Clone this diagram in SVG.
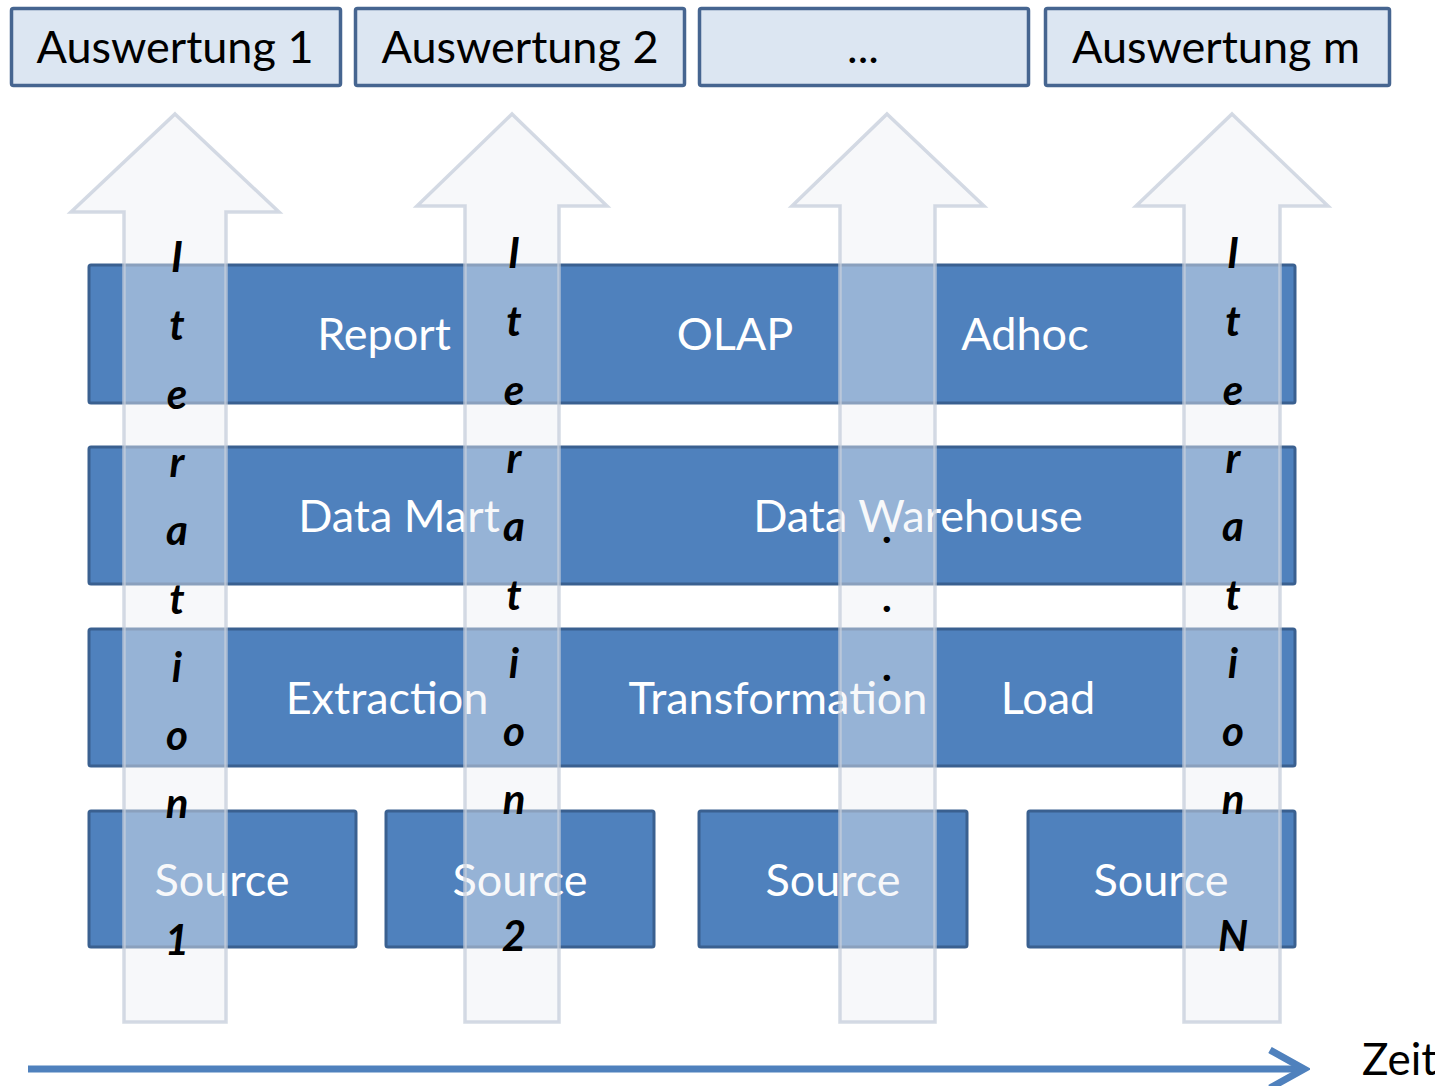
<svg xmlns="http://www.w3.org/2000/svg" width="1435" height="1086" viewBox="0 0 1435 1086">
<style>
.top{fill:#dce6f2;stroke:#466590;stroke-width:3.5}
.bar{fill:#4f81bd;stroke:#3a6090;stroke-width:3}
.tt{font-family:Lato,"Liberation Sans",sans-serif;font-size:45px;fill:#000;text-anchor:middle}
.bt{font-family:Lato,"Liberation Sans",sans-serif;font-size:45px;fill:#fff;text-anchor:middle}
.arr{fill:#eef0f4;fill-opacity:0.45;stroke:#c5cedb;stroke-opacity:0.75;stroke-width:3.5}
.it{font-family:Lato,"Liberation Sans",sans-serif;font-size:42px;font-weight:bold;font-style:italic;fill:#000;text-anchor:middle}
.zeit{font-family:Lato,"Liberation Sans",sans-serif;font-size:44px;fill:#000}
</style>
<defs>
<marker id="chev" viewBox="0 0 44 44" markerWidth="44" markerHeight="44" refX="38" refY="22" orient="auto" markerUnits="userSpaceOnUse">
<path d="M4,3 L38,22 L4,41" fill="none" stroke="#4f81bd" stroke-width="7"/>
</marker>
</defs>
<rect width="1435" height="1086" fill="#fff"/>
<g id="auswertung1"><rect class="top" x="11.5" y="8.5" width="329" height="77" rx="2"/><text class="tt" x="175" y="63">Auswertung 1</text></g>
<g id="auswertung2"><rect class="top" x="355.5" y="8.5" width="329" height="77" rx="2"/><text class="tt" x="520" y="63">Auswertung 2</text></g>
<g id="auswertung-dots"><rect class="top" x="699.5" y="8.5" width="329" height="77" rx="2"/><text class="tt" x="863" y="63">...</text></g>
<g id="auswertungm"><rect class="top" x="1045.5" y="8.5" width="344" height="77" rx="2"/><text class="tt" x="1216" y="63">Auswertung m</text></g>
<g id="row-report">
<rect class="bar" x="89" y="265" width="1206" height="138" rx="2"/>
<text class="bt" x="384" y="350">Report</text>
<text class="bt" x="735" y="350">OLAP</text>
<text class="bt" x="1025" y="350">Adhoc</text>
</g>
<g id="row-dw">
<rect class="bar" x="89" y="447" width="1206" height="137" rx="2"/>
<text class="bt" x="399" y="532">Data Mart</text>
<text class="bt" x="918" y="532">Data Warehouse</text>
</g>
<g id="row-etl">
<rect class="bar" x="89" y="629" width="1206" height="137" rx="2"/>
<text class="bt" x="387" y="714">Extraction</text>
<text class="bt" x="778" y="714">Transformation</text>
<text class="bt" x="1048" y="714">Load</text>
</g>
<g id="source1"><rect class="bar" x="89" y="811" width="267" height="136" rx="2"/><text class="bt" x="222" y="896">Source</text></g>
<g id="source2"><rect class="bar" x="386" y="811" width="268" height="136" rx="2"/><text class="bt" x="520" y="896">Source</text></g>
<g id="source3"><rect class="bar" x="699" y="811" width="268" height="136" rx="2"/><text class="bt" x="833" y="896">Source</text></g>
<g id="source4"><rect class="bar" x="1028" y="811" width="267" height="136" rx="2"/><text class="bt" x="1161" y="896">Source</text></g>
<g id="iteration1">
<path class="arr" d="M175,114 L279,212 L226,212 L226,1022 L124,1022 L124,212 L71,212 Z"/>
<text class="it" x="177"><tspan x="177" y="272">I</tspan><tspan x="177" y="340">t</tspan><tspan x="177" y="409">e</tspan><tspan x="177" y="477">r</tspan><tspan x="177" y="545">a</tspan><tspan x="177" y="614">t</tspan><tspan x="177" y="682">i</tspan><tspan x="177" y="750">o</tspan><tspan x="177" y="818">n</tspan><tspan x="177" y="955">1</tspan></text>
</g>
<g id="iteration2">
<path class="arr" d="M512,114 L607,206 L559,206 L559,1022 L465,1022 L465,206 L417,206 Z"/>
<text class="it" x="514"><tspan x="514" y="268">I</tspan><tspan x="514" y="336">t</tspan><tspan x="514" y="405">e</tspan><tspan x="514" y="473">r</tspan><tspan x="514" y="541">a</tspan><tspan x="514" y="610">t</tspan><tspan x="514" y="678">i</tspan><tspan x="514" y="746">o</tspan><tspan x="514" y="814">n</tspan><tspan x="514" y="951">2</tspan></text>
</g>
<g id="iteration-dots">
<path class="arr" d="M887,114 L984,206 L935,206 L935,1022 L840,1022 L840,206 L792,206 Z"/>
<text class="it" x="888"><tspan x="888" y="543">.</tspan><tspan x="888" y="612">.</tspan><tspan x="888" y="681">.</tspan></text>
</g>
<g id="iterationN">
<path class="arr" d="M1232,114 L1328,206 L1280,206 L1280,1022 L1184,1022 L1184,206 L1136,206 Z"/>
<text class="it" x="1233"><tspan x="1233" y="268">I</tspan><tspan x="1233" y="336">t</tspan><tspan x="1233" y="405">e</tspan><tspan x="1233" y="473">r</tspan><tspan x="1233" y="541">a</tspan><tspan x="1233" y="610">t</tspan><tspan x="1233" y="678">i</tspan><tspan x="1233" y="746">o</tspan><tspan x="1233" y="814">n</tspan><tspan x="1233" y="951">N</tspan></text>
</g>
<g id="connectors">
<line x1="28" y1="1069" x2="1304" y2="1069" stroke="#4f81bd" stroke-width="7" marker-end="url(#chev)"/>
</g>
<g id="zeit"><text class="zeit" x="1362" y="1075">Zeit</text></g>
</svg>
